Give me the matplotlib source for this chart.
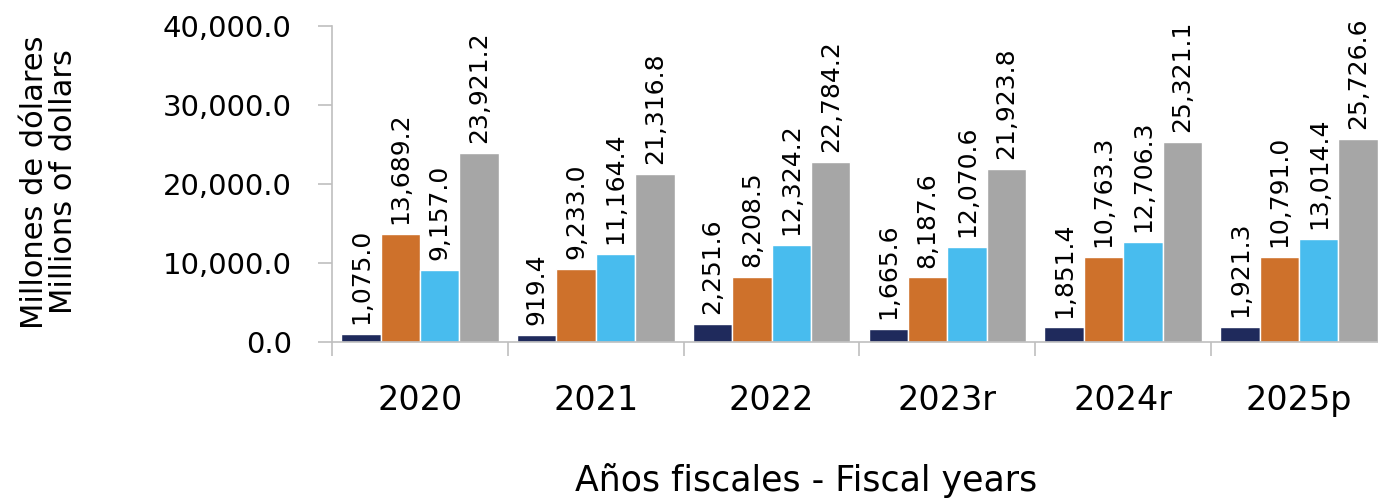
import matplotlib
matplotlib.use("Agg")
import matplotlib.pyplot as plt
import numpy as np

years = ["2020", "2021", "2022", "2023r", "2024r", "2025p"]
series_a = [1075.0, 919.4, 2251.6, 1665.6, 1851.4, 1921.3]
series_b = [13689.2, 9233.0, 8208.5, 8187.6, 10763.3, 10791.0]
series_c = [9157.0, 11164.4, 12324.2, 12070.6, 12706.3, 13014.4]
series_d = [23921.2, 21316.8, 22784.2, 21923.8, 25321.1, 25726.6]
colors = ["#1F2A5C", "#CE712B", "#48BCEE", "#A6A6A6"]

plt.rcParams['font.family'] = ['DejaVu Sans']

fig = plt.figure(figsize=(13.78, 5.0), dpi=100)
ax = fig.add_axes([332/1378, 1-342/500, (1387-332)/1378, (342-26)/500])

x = np.arange(len(years))
w = 0.224
allseries = [series_a, series_b, series_c, series_d]
for i, (s, c) in enumerate(zip(allseries, colors)):
    pos = x + (i - 1.5) * w
    ax.bar(pos, s, width=w, color=c, edgecolor="white", linewidth=1.0, zorder=2)
    for xp, v in zip(pos, s):
        ax.annotate(f"{v:,.1f}", (xp, v), xytext=(0, 7), textcoords="offset points",
                    rotation=90, ha="center", va="bottom", fontsize=18, color="black")

ax.set_xlim(-0.5, len(years) - 0.5)
ax.set_ylim(0, 40000)
yt = [0, 10000, 20000, 30000, 40000]
ax.set_yticks(yt)
ax.set_yticklabels([f"{v:,.1f}" for v in yt], fontsize=21)
ax.set_xticks(x)
ax.set_xticklabels(years, fontsize=24)
ax.set_xticks(np.arange(len(years) + 1) - 0.5, minor=True)
ax.tick_params(axis="x", which="major", length=0, pad=30)
ax.tick_params(axis="x", which="minor", length=10, color="#BFBFBF", width=1.2)
ax.tick_params(axis="y", length=10, color="#BFBFBF", width=1.2, pad=19)

for sp in ["top", "right"]:
    ax.spines[sp].set_visible(False)
for sp in ["left", "bottom"]:
    ax.spines[sp].set_color("#BFBFBF")
    ax.spines[sp].set_linewidth(1.2)

fig.text(806/1378, 1-480/500, "Años fiscales - Fiscal years", fontsize=25,
         ha="center", va="center")
fig.text(49/1378, 1-182/500, "Millones de dólares\nMillions of dollars", fontsize=22,
         ha="center", va="center", rotation=90, linespacing=1.0, multialignment="center")

fig.savefig("out.png", dpi=100)
